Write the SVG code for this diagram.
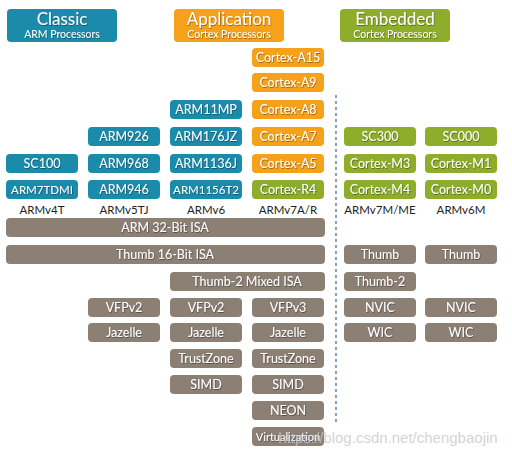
<svg xmlns="http://www.w3.org/2000/svg" width="512" height="453" viewBox="0 0 512 453">
<defs>
<filter id="ts" x="-10%" y="-20%" width="130%" height="150%">
<feDropShadow dx="0.6" dy="0.8" stdDeviation="0.4" flood-color="#000" flood-opacity="0.45"/>
</filter>
</defs>
<style>
.b{fill:#1b8bab}
.o{fill:#f6a11a}
.g{fill:#8ead2b}
.x{fill:#8c8075}
rect{rx:4;ry:4}
text{font-family:Lato,"Open Sans","DejaVu Sans",sans-serif;text-anchor:middle}
.t{fill:#fff;font-size:12.5px;filter:url(#ts)}
.h1{fill:#fff;font-size:17px;filter:url(#ts)}
.h2{fill:#fff;font-size:10.5px;filter:url(#ts)}
.lb{fill:#222;font-size:11.5px}
</style>
<rect width="512" height="453" fill="#fff" rx="0" ry="0"/>
<g id="connectors">
<line x1="336" y1="95" x2="336" y2="422" stroke="#3d5f8f" stroke-width="1.2" stroke-dasharray="3,3"/>
</g>
<g id="hdr-classic"><rect class="b" x="7" y="9" width="110" height="33"/><text class="h1" x="62" y="25">Classic</text><text class="h2" x="62" y="38">ARM Processors</text></g>
<g id="hdr-application"><rect class="o" x="174" y="9" width="110" height="33"/><text class="h1" x="229" y="25">Application</text><text class="h2" x="229" y="38">Cortex Processors</text></g>
<g id="hdr-embedded"><rect class="g" x="340" y="9" width="110" height="33"/><text class="h1" x="395" y="25">Embedded</text><text class="h2" x="395" y="38">Cortex Processors</text></g>

<g id="cortex-a15"><rect class="o" x="252" y="48" width="72" height="19"/><text class="t" x="288" y="62">Cortex-A15</text></g>
<g id="cortex-a9"><rect class="o" x="252" y="73" width="72" height="19"/><text class="t" x="288" y="87">Cortex-A9</text></g>
<g id="arm11mp"><rect class="b" x="170" y="100" width="72" height="19"/><text class="t" x="206" y="114">ARM11MP</text></g>
<g id="cortex-a8"><rect class="o" x="252" y="100" width="72" height="19"/><text class="t" x="288" y="114">Cortex-A8</text></g>
<g id="arm926"><rect class="b" x="88" y="127" width="72" height="19"/><text class="t" x="124" y="141">ARM926</text></g>
<g id="arm176jz"><rect class="b" x="170" y="127" width="72" height="19"/><text class="t" x="206" y="141">ARM176JZ</text></g>
<g id="cortex-a7"><rect class="o" x="252" y="127" width="72" height="19"/><text class="t" x="288" y="141">Cortex-A7</text></g>
<g id="sc300"><rect class="g" x="344" y="127" width="72" height="19"/><text class="t" x="380" y="141">SC300</text></g>
<g id="sc000"><rect class="g" x="425" y="127" width="72" height="19"/><text class="t" x="461" y="141">SC000</text></g>
<g id="sc100"><rect class="b" x="6" y="154" width="72" height="19"/><text class="t" x="42" y="168">SC100</text></g>
<g id="arm968"><rect class="b" x="88" y="154" width="72" height="19"/><text class="t" x="124" y="168">ARM968</text></g>
<g id="arm1136j"><rect class="b" x="170" y="154" width="72" height="19"/><text class="t" x="206" y="168">ARM1136J</text></g>
<g id="cortex-a5"><rect class="o" x="252" y="154" width="72" height="19"/><text class="t" x="288" y="168">Cortex-A5</text></g>
<g id="cortex-m3"><rect class="g" x="344" y="154" width="72" height="19"/><text class="t" x="380" y="168">Cortex-M3</text></g>
<g id="cortex-m1"><rect class="g" x="425" y="154" width="72" height="19"/><text class="t" x="461" y="168">Cortex-M1</text></g>
<g id="arm7tdmi"><rect class="b" x="6" y="180" width="72" height="19"/><text class="t" x="42" y="194" style="font-size:11.5px">ARM7TDMI</text></g>
<g id="arm946"><rect class="b" x="88" y="180" width="72" height="19"/><text class="t" x="124" y="194">ARM946</text></g>
<g id="arm1156t2"><rect class="b" x="170" y="180" width="72" height="19"/><text class="t" x="206" y="194" style="font-size:11.5px">ARM1156T2</text></g>
<g id="cortex-r4"><rect class="g" x="252" y="180" width="72" height="19"/><text class="t" x="288" y="194">Cortex-R4</text></g>
<g id="cortex-m4"><rect class="g" x="344" y="180" width="72" height="19"/><text class="t" x="380" y="194">Cortex-M4</text></g>
<g id="cortex-m0"><rect class="g" x="425" y="180" width="72" height="19"/><text class="t" x="461" y="194">Cortex-M0</text></g>

<g id="labels">
<text class="lb" x="42" y="214">ARMv4T</text>
<text class="lb" x="124" y="214">ARMv5TJ</text>
<text class="lb" x="206" y="214">ARMv6</text>
<text class="lb" x="288" y="214">ARMv7A/R</text>
<text class="lb" x="380" y="214">ARMv7M/ME</text>
<text class="lb" x="461" y="214">ARMv6M</text>
</g>

<g id="arm32"><rect class="x" x="6" y="218" width="319" height="19"/><text class="t" x="165" y="232">ARM 32-Bit ISA</text></g>
<g id="thumb16"><rect class="x" x="6" y="245" width="319" height="19"/><text class="t" x="165" y="259">Thumb 16-Bit ISA</text></g>
<g id="thumb-m"><rect class="x" x="344" y="245" width="72" height="19"/><text class="t" x="380" y="259">Thumb</text></g>
<g id="thumb-m0"><rect class="x" x="425" y="245" width="72" height="19"/><text class="t" x="461" y="259">Thumb</text></g>
<g id="thumb2"><rect class="x" x="170" y="272" width="155" height="19"/><text class="t" x="247" y="286">Thumb-2 Mixed ISA</text></g>
<g id="thumb2-m"><rect class="x" x="344" y="272" width="72" height="19"/><text class="t" x="380" y="286">Thumb-2</text></g>
<g id="vfpv2-a"><rect class="x" x="88" y="298" width="72" height="19"/><text class="t" x="124" y="312">VFPv2</text></g>
<g id="vfpv2-b"><rect class="x" x="170" y="298" width="72" height="19"/><text class="t" x="206" y="312">VFPv2</text></g>
<g id="vfpv3"><rect class="x" x="252" y="298" width="72" height="19"/><text class="t" x="288" y="312">VFPv3</text></g>
<g id="nvic-a"><rect class="x" x="344" y="298" width="72" height="19"/><text class="t" x="380" y="312">NVIC</text></g>
<g id="nvic-b"><rect class="x" x="425" y="298" width="72" height="19"/><text class="t" x="461" y="312">NVIC</text></g>
<g id="jazelle-a"><rect class="x" x="88" y="323" width="72" height="19"/><text class="t" x="124" y="337">Jazelle</text></g>
<g id="jazelle-b"><rect class="x" x="170" y="323" width="72" height="19"/><text class="t" x="206" y="337">Jazelle</text></g>
<g id="jazelle-c"><rect class="x" x="252" y="323" width="72" height="19"/><text class="t" x="288" y="337">Jazelle</text></g>
<g id="wic-a"><rect class="x" x="344" y="323" width="72" height="19"/><text class="t" x="380" y="337">WIC</text></g>
<g id="wic-b"><rect class="x" x="425" y="323" width="72" height="19"/><text class="t" x="461" y="337">WIC</text></g>
<g id="trustzone-a"><rect class="x" x="170" y="349" width="72" height="19"/><text class="t" x="206" y="363">TrustZone</text></g>
<g id="trustzone-b"><rect class="x" x="252" y="349" width="72" height="19"/><text class="t" x="288" y="363">TrustZone</text></g>
<g id="simd-a"><rect class="x" x="170" y="375" width="72" height="19"/><text class="t" x="206" y="389">SIMD</text></g>
<g id="simd-b"><rect class="x" x="252" y="375" width="72" height="19"/><text class="t" x="288" y="389">SIMD</text></g>
<g id="neon"><rect class="x" x="252" y="401" width="72" height="19"/><text class="t" x="288" y="415">NEON</text></g>
<g id="virtualization"><rect class="x" x="252" y="427" width="72" height="19"/><text class="t" x="288" y="441" style="font-size:11px">Virtualization</text></g>

<text x="388" y="443" style="font-family:'Liberation Sans',Arial,sans-serif;font-size:15px;fill:#c8c8c8;fill-opacity:0.8;text-anchor:middle">https://blog.csdn.net/chengbaojin</text>
</svg>
